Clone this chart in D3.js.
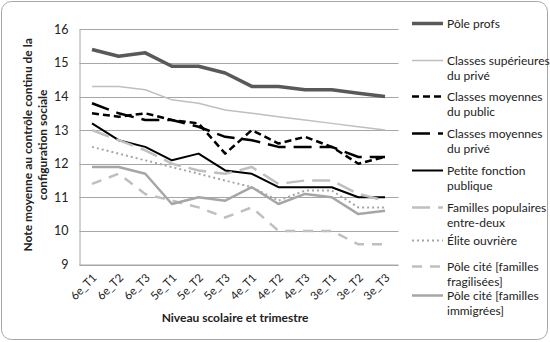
<!DOCTYPE html>
<html>
<head>
<meta charset="utf-8">
<script src="https://cdn.jsdelivr.net/npm/d3@7/dist/d3.min.js"></script>
<style>
  html, body { margin: 0; padding: 0; background: #fff; }
  svg { display: block; font-family: Lato, "Open Sans", sans-serif; }
</style>
</head>
<body>
<svg id="chart" width="550" height="342"></svg>
<script>
// ---- data ----
const categories = ["6e_T1","6e_T2","6e_T3","5e_T1","5e_T2","5e_T3","4e_T1","4e_T2","4e_T3","3e_T1","3e_T2","3e_T3"];
const yTicks = [9, 10, 11, 12, 13, 14, 15, 16];

const poleProfs        = [15.4, 15.2, 15.3, 14.9, 14.9, 14.7, 14.3, 14.3, 14.2, 14.2, 14.1, 14.0];
const classesSupPrive  = [14.3, 14.3, 14.2, 13.9, 13.8, 13.6, 13.5, 13.4, 13.3, 13.2, 13.1, 13.0];
const classesMoyPublic = [13.5, 13.4, 13.5, 13.3, 13.2, 12.3, 13.0, 12.6, 12.8, 12.5, 12.0, 12.2];
const classesMoyPrive  = [13.8, 13.5, 13.3, 13.3, 13.1, 12.8, 12.7, 12.5, 12.5, 12.5, 12.2, 12.2];
const petiteFonction   = [13.2, 12.7, 12.5, 12.1, 12.3, 11.8, 11.7, 11.3, 11.3, 11.3, 11.0, 11.0];
const famillesEntreDeux= [13.0, 12.7, 12.4, 12.0, 11.8, 11.7, 11.9, 11.4, 11.5, 11.5, 11.1, 10.9];
const eliteOuvriere    = [12.5, 12.3, 12.1, 11.9, 11.7, 11.5, 11.3, 10.9, 11.2, 11.2, 10.7, 10.7];
const poleCiteFragil   = [11.4, 11.7, 11.1, 10.9, 10.7, 10.4, 10.7, 10.0, 10.0, 10.0,  9.6,  9.6];
const poleCiteImmig    = [11.9, 11.9, 11.7, 10.8, 11.0, 10.9, 11.3, 10.8, 11.1, 11.0, 10.5, 10.6];

const seriesNames = [
  ["Pôle profs"],
  ["Classes supérieures", "du privé"],
  ["Classes moyennes", "du public"],
  ["Classes moyennes", "du privé"],
  ["Petite fonction", "publique"],
  ["Familles populaires", "entre-deux"],
  ["Élite ouvrière"],
  ["Pôle cité [familles", "fragilisées]"],
  ["Pôle cité [familles", "immigrées]"]
];
const seriesValues = [poleProfs, classesSupPrive, classesMoyPublic, classesMoyPrive, petiteFonction,
                      famillesEntreDeux, eliteOuvriere, poleCiteFragil, poleCiteImmig];

const yTitle = ["Note moyenne au contrôle continu de la", "configuration sociale"];
const xTitle = "Niveau scolaire et trimestre";

// ---- styles ----
const styles = [
  {color: "#595959", width: 3.5, dash: null},
  {color: "#bfbfbf", width: 1.5, dash: null},
  {color: "#000000", width: 2.5, dash: "7,4"},
  {color: "#000000", width: 2.5, dash: "18,8"},
  {color: "#000000", width: 2,   dash: null},
  {color: "#bfbfbf", width: 2.5, dash: "18,8"},
  {color: "#a6a6a6", width: 2,   dash: "2,3"},
  {color: "#bfbfbf", width: 2.5, dash: "10,8"},
  {color: "#a6a6a6", width: 2.5, dash: null}
];

const svg = d3.select("#chart");
const plot = {left: 79.5, right: 398.5, top: 29.3, bottom: 264.5};

// outer rounded border
svg.append("rect").attr("x", 1.5).attr("y", 1.5).attr("width", 546).attr("height", 338)
  .attr("rx", 10).attr("ry", 10).attr("fill", "#fff").attr("stroke", "#a6a6a6").attr("stroke-width", 1);

const x = d3.scalePoint().domain(categories).range([plot.left + 12.5, plot.right - 13.5]);
const y = d3.scaleLinear().domain([9, 16]).range([plot.bottom, plot.top]);

// gridlines
svg.append("g").selectAll("line").data(yTicks).join("line")
  .attr("x1", plot.left).attr("x2", plot.right)
  .attr("y1", d => Math.round(y(d)) + 0.5).attr("y2", d => Math.round(y(d)) + 0.5)
  .attr("stroke", "#a6a6a6").attr("stroke-width", 1);

// y axis
const yAxis = d3.axisLeft(y).tickValues(yTicks).tickFormat(d3.format("d")).tickSize(0).tickPadding(11);
const gy = svg.append("g").attr("transform", `translate(${plot.left},0)`).call(yAxis);
gy.select(".domain").attr("stroke", "#a6a6a6");
gy.selectAll("text").attr("font-size", 12.5).attr("fill", "#222").attr("font-family", "Lato, sans-serif");

// x axis
const xAxis = d3.axisBottom(x).tickSize(0).tickPadding(0);
const gx = svg.append("g").attr("transform", `translate(0,${plot.bottom})`).call(xAxis);
gx.select(".domain").attr("stroke", "#a6a6a6").attr("d", `M${plot.left},0.5H${plot.right}`);
gx.selectAll("text")
  .attr("font-size", 11.5).attr("fill", "#222").attr("font-family", "Lato, sans-serif")
  .attr("text-anchor", "end").attr("dy", null).attr("y", 0)
  .attr("transform", "translate(5,14) rotate(-45)");

// lines
const line = d3.line().x((d, i) => x(categories[i])).y(d => y(d));
seriesValues.forEach((vals, i) => {
  const s = styles[i];
  svg.append("path").datum(vals)
    .attr("d", line).attr("fill", "none")
    .attr("stroke", s.color).attr("stroke-width", s.width)
    .attr("stroke-dasharray", s.dash).attr("stroke-linejoin", "round");
});

// axis titles
const ytg = svg.append("text")
  .attr("transform", `translate(32,${(plot.top + plot.bottom) / 2 - 2}) rotate(-90)`)
  .attr("text-anchor", "middle").attr("font-size", 12).attr("font-weight", "bold").attr("fill", "#222");
yTitle.forEach((t, i) => ytg.append("tspan").attr("x", 0).attr("dy", i === 0 ? 0 : 14.5).text(t));

svg.append("text").attr("x", (plot.left + plot.right) / 2 - 4).attr("y", 322)
  .attr("text-anchor", "middle").attr("font-size", 12).attr("font-weight", "bold").attr("fill", "#222")
  .text(xTitle);

// legend
const legendY = [25, 62, 98, 135, 172, 209, 242, 268, 297];
const lg = svg.append("g");
seriesNames.forEach((lines, i) => {
  const s = styles[i];
  const ly = legendY[i];
  lg.append("line").attr("x1", 412).attr("x2", 443).attr("y1", ly - 1.5).attr("y2", ly - 1.5)
    .attr("stroke", s.color).attr("stroke-width", s.width).attr("stroke-dasharray", s.dash);
  const t = lg.append("text").attr("x", 447).attr("y", ly + 3).attr("font-size", 12).attr("fill", "#222");
  lines.forEach((l, j) => t.append("tspan").attr("x", 447).attr("dy", j === 0 ? 0 : 14.5).text(l));
});
</script>
</body>
</html>
